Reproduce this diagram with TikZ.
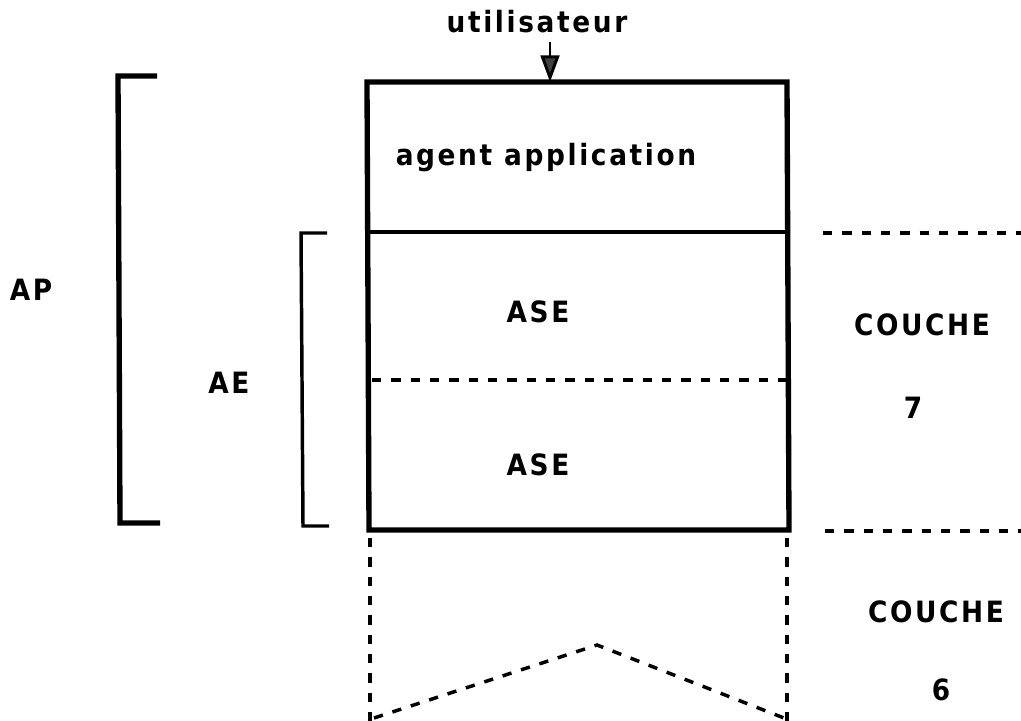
\documentclass[tikz,border=0pt]{standalone}
\usepackage{fontspec}
\usetikzlibrary{arrows.meta}
\setmainfont{DejaVu Sans}
\newfontfamily\labelfont[LetterSpace=9]{DejaVu Sans Condensed Bold}
\begin{document}
\begin{tikzpicture}[x=0.75pt,y=-0.75pt,
  lbl/.style={font=\labelfont\fontsize{22}{26}\selectfont, inner sep=0pt},
  heavy/.style={line width=4pt},
  light/.style={line width=2.6pt},
  dashline/.style={line width=2.6pt, dash pattern=on 7pt off 7.5pt},
  every node/.style={lbl}]
\useasboundingbox (0,0) rectangle (1021,721);

% main stack
\coordinate (tl) at (367,82);
\coordinate (tr) at (787,82);
\coordinate (bl) at (369,530);
\coordinate (br) at (789,530);
\coordinate (ml) at (367,232);
\coordinate (mr) at (787,232);
\coordinate (dl) at (372,380);
\coordinate (dr) at (787,380);
\draw[heavy] (tl) -- (tr) -- (br) -- (bl) -- cycle;
\draw[light] (ml) -- (mr);
\draw[dashline] (dl) -- (dr);

\node (user) at (537,22) {utilisateur};
\coordinate (arrtop) at (550,42);
\coordinate (arrbot) at (550,82);
\draw[line width=2.2pt, -{Triangle[length=20pt,width=14pt,fill=black!75]}] (arrtop) -- (arrbot);

\node (agent) at (546,158) {agent application};
\node (ase1) at (538,312) {ASE};
\node (ase2) at (538,465) {ASE};

% AP bracket
\coordinate (apt) at (157,76);
\coordinate (apb) at (160,523);
\draw[heavy] (apt) -- (118,76) -- (120,523) -- (apb);
\node (ap) at (31,290) {AP};

% AE bracket
\coordinate (aet) at (327,233);
\coordinate (aeb) at (329,526);
\draw[light] (aet) -- (301,233) -- (303,526) -- (aeb);
\node (ae) at (229,383) {AE};

% layer boundaries
\coordinate (l7a) at (823,233);
\coordinate (l7b) at (1021,233);
\coordinate (l6a) at (825,531);
\coordinate (l6b) at (1021,531);
\draw[dashline] (l7a) -- (l7b);
\draw[dashline] (l6a) -- (l6b);

\node (c7) at (922,325) {COUCHE};
\node (n7) at (913,408) {7};
\node (c6) at (936,612) {COUCHE};
\node (n6) at (941,690) {6};

% layer 6 outline, cut below
\coordinate (sl) at (370,538);
\coordinate (sr) at (787,538);
\coordinate (slb) at (370,721);
\coordinate (srb) at (787,721);
\coordinate (zl) at (374,718);
\coordinate (zm) at (597,645);
\coordinate (zr) at (784,718);
\draw[dashline] (sl) -- (slb);
\draw[dashline] (sr) -- (srb);
\draw[dashline] (zl) -- (zm) -- (zr);
\end{tikzpicture}
\end{document}
